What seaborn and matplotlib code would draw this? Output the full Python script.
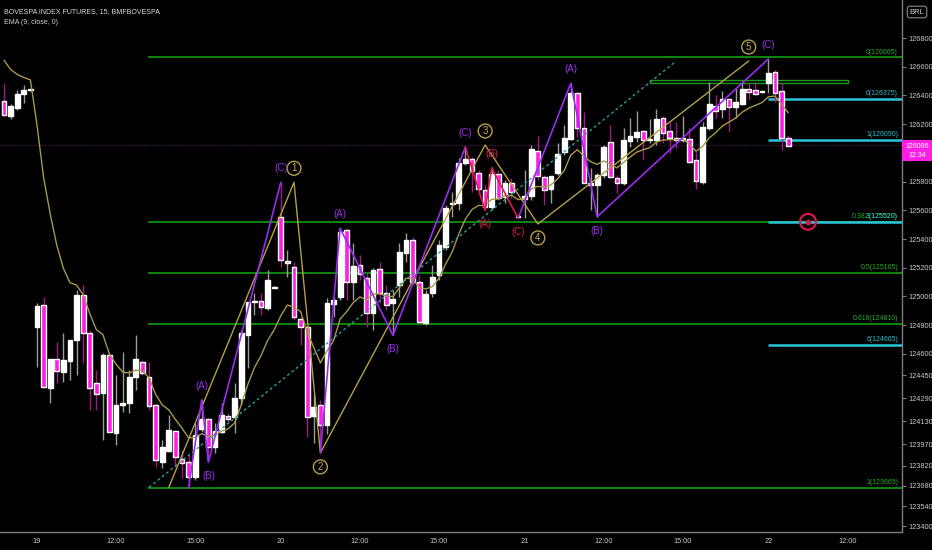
import numpy as np
import pandas as pd
import matplotlib
matplotlib.use("Agg")
import matplotlib.pyplot as plt
import matplotlib.transforms as mtransforms
from matplotlib.patches import Rectangle
import seaborn as sns

# 15 min bars, bar 0 = first bar of the 19th (previous day's last 5 bars shown too)
bar_start = -5
opens = [126360, 126255, 126315, 126410, 126440, 124785, 124940, 124360, 124565, 124475,
         124550, 124695, 125010, 124745, 124395, 124325, 124590, 124050, 124245, 124255,
         124440, 124545, 124440, 124245, 123845, 123925, 124060, 123865, 123845, 123740,
         124075, 124145, 123950, 124055, 124165, 124160, 124290, 124730, 124960, 124970,
         124920, 125065, 125555, 125240, 125205, 124845, 124785, 124165, 124245, 124105,
         124945, 124995, 125465, 125100, 125220, 125130, 124885, 125190, 125025, 124955,
         125080, 125300, 125395, 125100, 124815, 125025, 125150, 125345, 125645, 125650,
         125930, 125955, 125860, 125740, 125625, 125855, 125690, 125790, 125560, 125680,
         125700, 126015, 125830, 125750, 125860, 126005, 126095, 126415, 126175, 125775,
         125775, 125845, 126075, 125825, 125790, 126085, 126110, 126150, 126095, 126090,
         126245, 126150, 126105, 126090, 126095, 125950, 125795, 126175, 126325, 126305,
         126375, 126320, 126340, 126445, 126440, 126425, 126485, 126565, 126430, 126105]
highs = [126485, 126340, 126440, 126475, 126445, 124955, 124995, 124565, 124680, 124745,
         124695, 125045, 125080, 124765, 124485, 124605, 124605, 124450, 124615, 124485,
         124730, 124555, 124545, 124255, 124000, 124175, 124070, 123930, 123895, 124120,
         124280, 124155, 124120, 124255, 124190, 124395, 124765, 124960, 125025, 125025,
         125185, 125070, 125795, 125325, 125240, 124855, 124800, 124315, 124280, 124990,
         124995, 125475, 125475, 125370, 125290, 125165, 125200, 125240, 125080, 125045,
         125370, 125440, 125415, 125150, 125045, 125220, 125395, 125635, 125725, 125965,
         126040, 125970, 125880, 125775, 125900, 125880, 125810, 125825, 125565, 125880,
         126055, 126115, 125845, 125840, 126070, 126195, 126485, 126425, 126285, 125895,
         125860, 126055, 126195, 125845, 126175, 126245, 126290, 126160, 126235, 126305,
         126255, 126215, 126215, 126255, 126175, 126005, 126215, 126495, 126405, 126430,
         126380, 126450, 126495, 126485, 126495, 126425, 126655, 126575, 126485, 126125]
lows = [126255, 126235, 126300, 126345, 126430, 124510, 124360, 124255, 124395, 124405,
        124420, 124450, 124535, 124210, 124210, 124000, 124055, 123965, 124195, 124190,
        124350, 124450, 124210, 123810, 123805, 123915, 123810, 123735, 123665, 123720,
        124055, 123845, 123910, 124050, 124120, 124050, 124245, 124500, 124870, 124870,
        124905, 125060, 125205, 125135, 124835, 124660, 124020, 123980, 123910, 124040,
        124855, 124975, 124975, 124975, 125115, 124785, 124765, 124955, 124905, 124730,
        124995, 125240, 125080, 124815, 124800, 124995, 125115, 125325, 125555, 125600,
        125915, 125725, 125705, 125600, 125600, 125670, 125650, 125685, 125545, 125545,
        125670, 125810, 125635, 125650, 125845, 125985, 126090, 126110, 125790, 125600,
        125555, 125825, 125825, 125720, 125775, 126040, 126075, 125955, 126070, 126055,
        126070, 126000, 126035, 126075, 125930, 125750, 125785, 126160, 126245, 126245,
        126145, 126245, 126335, 126370, 126405, 126415, 126415, 126355, 126020, 126040]
closes = [126265, 126325, 126410, 126440, 126440, 124935, 124370, 124565, 124480, 124555,
          124695, 125010, 124745, 124360, 124320, 124590, 124055, 124245, 124255, 124440,
          124565, 124465, 124235, 123860, 123950, 124070, 123880, 123840, 123740, 124035,
          124145, 123950, 124060, 124175, 124145, 124290, 124745, 124960, 124970, 124925,
          125115, 125065, 125255, 125240, 124855, 124785, 124160, 124230, 124105, 124955,
          124975, 125450, 125100, 125210, 125155, 124885, 125185, 125025, 124940, 124980,
          125310, 125395, 125100, 124820, 125015, 125135, 125360, 125615, 125650, 125930,
          125955, 125875, 125750, 125625, 125855, 125685, 125790, 125725, 125550, 125700,
          126025, 125840, 125740, 125840, 125990, 126105, 126415, 126175, 125790, 125790,
          125845, 126040, 125830, 125790, 126090, 126115, 126145, 126090, 126095, 126235,
          126140, 126105, 126090, 126105, 125935, 125805, 126180, 126340, 126290, 126375,
          126320, 126355, 126445, 126425, 126410, 126425, 126555, 126415, 126105, 126050]
ema_seed = 126740  # EMA value carried in from bars left of the window
last_price = 126096

time_ticks = [0, 12, 24, 37, 49, 61, 74, 86, 98, 111, 123]
time_labels = ["19", "12:00", "15:00", "20", "12:00", "15:00", "21", "12:00", "15:00", "22", "12:00"]
price_ticks = [126800, 126600, 126400, 126200, 125800, 125600, 125400, 125200, 125000,
               124800, 124600, 124450, 124290, 124130, 123970, 123820, 123680, 123540, 123400]

# fib retracement (green) and extension (cyan)
fib_levels = [126665, 125520, 125165, 124810, 123665]
fib_names = ["0", "0.382", "0.5", "0.618", "1"]
ext_levels = [126375, 126090, 125520, 124665]
ext_names = ["0", "1", "3", "6"]

# elliott waves
wave_x = [20, 39, 43, 68, 76, 108]
wave_y = [123670, 125795, 123910, 126055, 125505, 126640]
wave_names = ["", "1", "2", "3", "4", "5"]
abc_groups = [
    ([23, 25, 26, 37], [123665, 124280, 123845, 125795], "purple", [1, -1, 1]),
    ([43, 46, 54, 65], [123910, 125475, 124730, 126040], "purple", [1, -1, 1]),
    ([65, 68, 69, 73], [126040, 125600, 125895, 125545], "red", [-1, 1, -1]),
    ([73, 81, 85, 111], [125545, 126485, 125555, 126655], "purple", [1, -1, 1]),
]
trend_x = [17, 97]
trend_y = [123670, 126640]
box_x = [93, 123]
box_y = [126485, 126510]
target_x, target_y = 117, 125520
ref_line = 126055

up_body, down_body = "#ffffff", "#ff1ee6"
up_wick, down_wick = "#9a9a9a", "#a0188a"
cols = {"purple": "#9a2cf2", "red": "#dc1a50"}
olive = "#b4a043"
green, cyan = "#139c13", "#2cc6da"

sns.set_theme(style="dark", rc={"axes.facecolor": "black", "figure.facecolor": "black"})
plt.rcParams['font.family'] = ['Liberation Sans', 'DejaVu Sans']

df = pd.DataFrame({"bar": np.arange(bar_start, bar_start + len(opens)),
                   "open": opens, "high": highs, "low": lows, "close": closes})
ema = []
e = ema_seed
for c in df["close"]:
    e = e + (c - e) * 2 / 10
    ema.append(e)
df["ema"] = ema

fig = plt.figure(figsize=(9.32, 5.5), dpi=100)
ax = fig.add_axes([0, 18 / 550, 902 / 932, 532 / 550])
x_lo, x_hi = -5.615, 131.26
ax.set_xlim(x_lo, x_hi)
ax.set_ylim(123359, 127065)
ax.grid(False)

# levels
ax.axhline(ref_line, color="#5a245a", lw=0.8, ls=(0, (1, 1.5)), zorder=1)
ax.hlines(fib_levels, 16.8, x_hi, color=green, lw=1.2, zorder=1)
ax.hlines(ext_levels, 111, x_hi, color=cyan, lw=1.8, zorder=1)
ax.add_patch(Rectangle((box_x[0], box_y[0]), box_x[1] - box_x[0], box_y[1] - box_y[0],
                       fill=False, ec="#1a9a1a", lw=1, zorder=1))
trans = mtransforms.blended_transform_factory(ax.transAxes, ax.transData)
for lvl, nm in zip(fib_levels, fib_names):
    ax.text(0.9956, lvl + 12, f"{nm}({lvl})", transform=trans, ha="right", va="bottom",
            color="#2aa82a", fontsize=5)
for lvl, nm in zip(ext_levels, ext_names):
    ax.text(0.9956, lvl + 12, f"{nm}({lvl})", transform=trans, ha="right", va="bottom",
            color="#2ab8c8", fontsize=5)

# candles
up = df[df.close > df.open]
dn = df[df.close < df.open]
fl = df[df.close == df.open]
ax.vlines(up.bar, up.low, up.high, color=up_wick, lw=1, zorder=3)
ax.vlines(dn.bar, dn.low, dn.high, color=down_wick, lw=1, zorder=3)
ax.vlines(fl.bar, fl.low, fl.high, color=up_wick, lw=1, zorder=3)
ax.bar(up.bar, (up.close - up.open).clip(lower=7), bottom=up.open, width=0.72, color=up_body, zorder=3)
ax.bar(dn.bar, (dn.open - dn.close).clip(lower=7), bottom=dn.close, width=0.72, color=down_body, zorder=3)
ax.bar(fl.bar, 8, bottom=fl.open - 4, width=0.72, color="#bdbdbd", zorder=3)

sns.lineplot(x=df.bar, y=df.ema, ax=ax, color="#a8984a", lw=1, zorder=4)

# wave drawings
ax.plot(trend_x, trend_y, color="#2a9fa0", lw=1, ls=(0, (2, 2)), zorder=4)
ax.plot(wave_x, wave_y, color=olive, lw=1, zorder=4)
for wx, wy, nm, k in zip(wave_x, wave_y, wave_names, range(6)):
    if not nm:
        continue
    side = 1 if k % 2 == 1 else -1
    ax.annotate(nm, (wx, wy), xytext=(0, 14 * side), textcoords="offset pixels",
                ha="center", va="center", color="#c9b04a", fontsize=7,
                bbox=dict(boxstyle="circle,pad=0.2", fc="black", ec=olive, lw=1), zorder=6)
for xs, ys, cname, sides in abc_groups:
    ax.plot(xs, ys, color=cols[cname], lw=1.2, zorder=5)
    for wx, wy, nm, side in zip(xs[1:], ys[1:], ["(A)", "(B)", "(C)"], sides):
        ax.annotate(nm, (wx, wy), xytext=(0, 14 * side), textcoords="offset pixels",
                    ha="center", va="center", color=cols[cname], fontsize=7, zorder=6)
ax.scatter([target_x], [target_y], s=130, facecolors="none", edgecolors="#d8184c", linewidths=1.6, zorder=6)
ax.scatter([target_x], [target_y], s=10, color="#d8184c", zorder=6)

# axes
for side in ["top", "left"]:
    ax.spines[side].set_visible(False)
for side in ["right", "bottom"]:
    ax.spines[side].set_visible(True)
    ax.spines[side].set_color("#7c7c7c")
    ax.spines[side].set_linewidth(1)
ax.yaxis.tick_right()
ax.set_yticks(price_ticks)
ax.set_yticklabels([str(p) for p in price_ticks])
ax.set_xticks(time_ticks)
ax.set_xticklabels(time_labels)
ax.tick_params(axis="both", colors="#7c7c7c", labelcolor="#c8c8c8", labelsize=5.3,
               length=3, width=0.8, direction="out", pad=1.5)
ax.set_xlabel("")
ax.set_ylabel("")

ax.annotate(f"{last_price}\n12:34", xy=(1, closes[-1]), xycoords=trans, xytext=(15, -5),
            textcoords="offset pixels", ha="center", va="center", fontsize=5, color="white",
            linespacing=1.4, annotation_clip=False,
            bbox=dict(boxstyle="square,pad=0.4", fc="#ff1ee6", ec="none"))

fig.text(4 / 932, 1 - 12 / 550, "BOVESPA INDEX FUTURES, 15, BMFBOVESPA", fontsize=5,
         color="#dcdcdc", va="center", ha="left")
fig.text(4 / 932, 1 - 23 / 550, "EMA (9, close, 0)", fontsize=5, color="#cfcfcf",
         va="center", ha="left")
fig.text(917 / 932, 1 - 12 / 550, "BRL", fontsize=5.5, color="#d0d0d0", va="center", ha="center",
         bbox=dict(boxstyle="round,pad=0.3", fc="black", ec="#8a8a8a", lw=0.8))

fig.savefig("out.png", dpi=100, facecolor="black")
